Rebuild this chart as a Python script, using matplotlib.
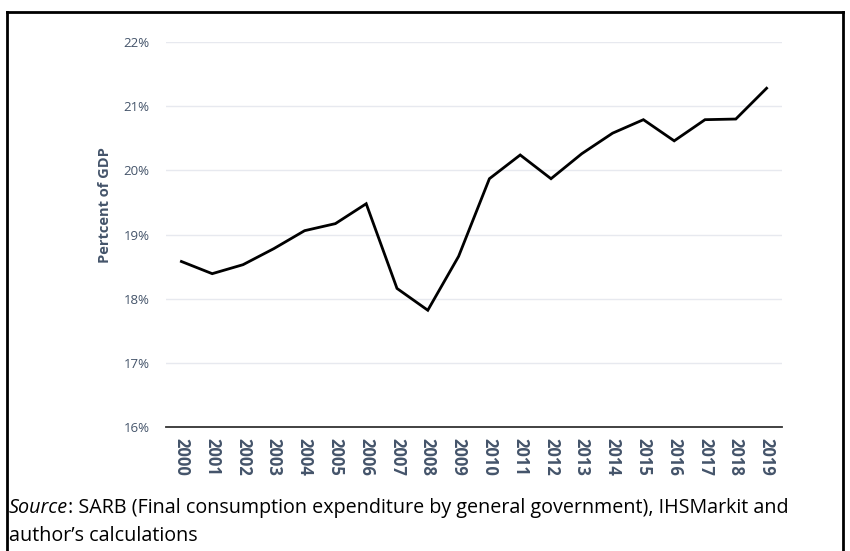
import matplotlib.pyplot as plt
from matplotlib.lines import Line2D

plt.rcParams['font.family'] = ['Open Sans', 'DejaVu Sans']

years = [str(y) for y in range(2000, 2020)]
share = [18.58, 18.39, 18.53, 18.78, 19.06, 19.17, 19.48, 18.16, 17.82, 18.66,
         19.87, 20.24, 19.87, 20.26, 20.58, 20.79, 20.46, 20.79, 20.80, 21.28]
yticks = [16, 17, 18, 19, 20, 21, 22]

text_col = '#44546A'

fig = plt.figure(figsize=(8.5, 5.51), dpi=100)
ax = fig.add_axes([0.1953, 0.2250, 0.7247, 0.6987])

x = list(range(len(years)))
ax.plot(x, share, color='black', lw=2, solid_joinstyle='miter')

ax.set_xlim(-0.5, len(years) - 0.5)
ax.set_ylim(16, 22)
ax.set_yticks(yticks)
ax.set_yticklabels([f'{v}%' for v in yticks], fontsize=9.5, color=text_col)
ax.set_xticks(x)
ax.set_xticklabels(years, rotation=270, fontsize=12, fontweight='bold', color=text_col)
ax.tick_params(length=0, pad=12, axis='y')
ax.tick_params(length=0, pad=8, axis='x')

ax.grid(axis='y', color='#E7E9EF', lw=1)
ax.set_axisbelow(True)
for s in ['top', 'right', 'left']:
    ax.spines[s].set_visible(False)
ax.spines['bottom'].set_color('#333333')
ax.spines['bottom'].set_linewidth(1.3)

ax.set_ylabel('Pertcent of GDP', fontsize=10.5, fontweight='bold', color=text_col)
ax.yaxis.set_label_coords(-0.088, 0.577)

# frame around the figure
W, H = 850, 551
fig.add_artist(Line2D([7 / W, 7 / W], [1 - 12 / H, -0.05], color='black', lw=2))
fig.add_artist(Line2D([843 / W, 843 / W], [1 - 12 / H, -0.05], color='black', lw=2))
fig.add_artist(Line2D([7 / W, 843 / W], [1 - 12 / H, 1 - 12 / H], color='black', lw=2))

# source note: italic "Source" followed by regular text
fs = 14.2
t1 = fig.text(9 / W, 1 - 508 / H, 'Source', fontsize=fs, style='italic', va='center', ha='left')
fig.canvas.draw()
bb = t1.get_window_extent()
fig.text(bb.x1 / W, 1 - 508 / H,
         ': SARB (Final consumption expenditure by general government), IHSMarkit and',
         fontsize=fs, va='center', ha='left')
fig.text(9 / W, 1 - 536 / H, "author\u2019s calculations", fontsize=fs, va='center')

fig.savefig('out.png', dpi=100)
